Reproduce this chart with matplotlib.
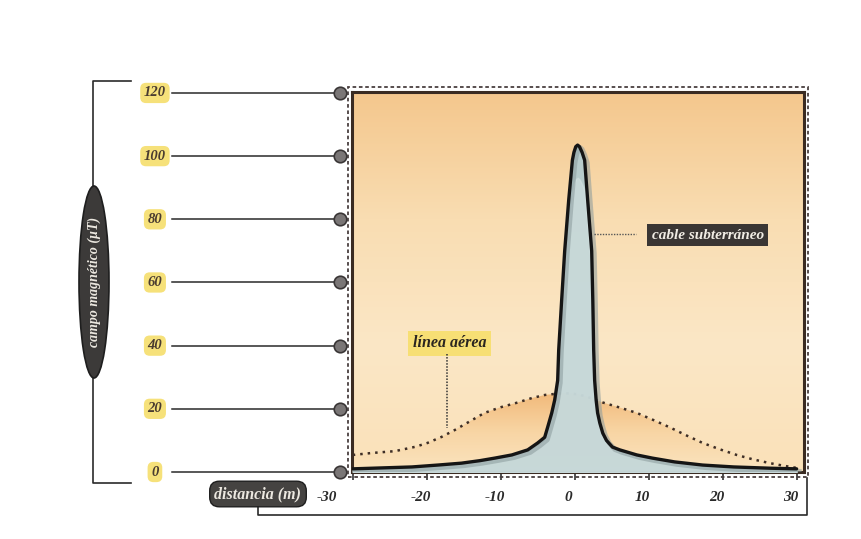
import numpy as np
import matplotlib
matplotlib.use("Agg")
import matplotlib.pyplot as plt
import matplotlib.transforms as mtransforms
from matplotlib.patches import Ellipse, Rectangle, Polygon
from matplotlib.colors import LinearSegmentedColormap

# data
y_ticks = [0, 20, 40, 60, 80, 100, 120]
x_ticks = [-30, -20, -10, 0, 10, 20, 30]

aerea_x = [-30, -27.5, -24.3, -21.5, -19.9, -18.0, -16.2, -14.2, -12.2, -10.0, -7.7, -5.8, -4.0, -1.5,
           0.5, 2.2, 3.8, 6.1, 8.4, 10.6, 12.8, 15.0, 17.3, 19.6, 21.9, 24.1, 26.4, 28.2, 30]
aerea_y = [5.4, 6.0, 6.6, 8.0, 9.2, 11.1, 13.3, 16.0, 18.7, 20.5, 22.0, 23.4, 24.4, 25.0,
           24.6, 23.4, 22.0, 20.4, 18.7, 16.5, 14.2, 11.7, 9.2, 7.2, 5.4, 4.0, 2.8, 2.0, 1.3]

cable_x = [-30, -26, -22, -18.5, -15.3, -12.8, -10.8, -8.5, -6.35, -5.0, -4.05, -3.65, -3.1, -2.7, -2.3,
           -2.16, -1.76, -1.35, -0.81, -0.31, -0.1, 0.15, 0.4, 0.65, 1.0, 1.35, 1.76, 2.3, 2.45,
           2.57, 2.7, 2.9, 3.1, 3.4, 3.8, 4.3, 5.1, 6.1, 8.4, 10.5, 13.5, 17.3, 21.5, 26.4, 30]
cable_y = [1.0, 1.3, 1.6, 2.2, 2.8, 3.6, 4.4, 5.4, 7.0, 9.2, 11.0, 14.2, 18.7, 22.8, 29.0,
           38.6, 54.4, 70.0, 86.0, 98.7, 101.2, 103.0, 103.5, 103.0, 101.2, 98.7, 86.0, 70.0, 54.4,
           38.6, 29.0, 22.8, 18.7, 15.5, 12.3, 10.0, 7.9, 7.0, 5.4, 4.4, 3.2, 2.2, 1.6, 1.2, 1.0]

fig = plt.figure(figsize=(8.61, 5.39), dpi=100)
W, H = 861, 539
ax = fig.add_axes([352 / W, (H - 472) / H, 452 / W, 380 / H])
ax.set_xlim(-30.1, 31.0)
ax.set_ylim(0, 120.3)

# background gradient
bg = LinearSegmentedColormap.from_list("bg", ["#fae1b9", "#fbe7c6", "#f9ddb2", "#f4c78d"])
grad = np.linspace(0, 1, 256).reshape(-1, 1)
ax.imshow(grad, cmap=bg, aspect="auto", origin="lower",
          extent=[-30.1, 31.0, 0, 120.3], zorder=0)

# overhead line: gradient fill under dotted curve
ax_x = np.array(aerea_x)
ax_y = np.array(aerea_y)
fill_cm = LinearSegmentedColormap.from_list("fo", ["#fbe4bf", "#f8d5a4", "#f1b878"])
im = ax.imshow(grad, cmap=fill_cm, aspect="auto", origin="lower",
               extent=[-30.1, 31.0, 0, 25.5], zorder=1)
poly = Polygon(np.column_stack([np.r_[ax_x, ax_x[::-1]], np.r_[ax_y, np.zeros(len(ax_x))]]),
               closed=True, transform=ax.transData, facecolor="none", edgecolor="none")
ax.add_patch(poly)
im.set_clip_path(poly)
ax.plot(aerea_x, aerea_y, color="#3e2e26", lw=1.8, ls=(0, (1.0, 2.0)), zorder=3)

# underground cable
cy = np.array(cable_y)
ax.fill_between(cable_x, 0, cable_y, color="#b4cbce", alpha=0.95, zorder=4)
ax.fill_between(cable_x, 0, cy * 0.9, color="#dbe7e6", alpha=0.45, zorder=4)
ax.plot(np.array(cable_x) + 0.35, cy - 0.8, color="#8a9a9c", lw=3.5, alpha=0.55, zorder=4)
ax.plot(cable_x, cable_y, color="#151515", lw=2.4, zorder=5, solid_capstyle="round",
        solid_joinstyle="round")

# frame
for s in ax.spines.values():
    s.set_color("#3a2b22")
    s.set_linewidth(2.2)
ax.add_patch(Rectangle((-0.008, -0.012), 1.016, 1.024, transform=ax.transAxes, fill=False,
                       ec="#4a4040", lw=1.3, ls=(0, (2, 1.5)), clip_on=False, zorder=6))

# x ticks
ax.set_xticks(x_ticks)
ax.set_xticklabels([str(v) for v in x_ticks], fontstyle="italic", fontweight="bold",
                   family="Liberation Serif", fontsize=11, color="#2a2a2a")
ax.tick_params(axis="x", direction="out", length=6, width=1.2, color="#333333", pad=8)
for lab, v in zip(ax.get_xticklabels(), x_ticks):
    dx = -26 if v == -30 else -6
    lab.set_transform(lab.get_transform() + mtransforms.ScaledTranslation(dx / 100, 0, fig.dpi_scale_trans))
ax.set_yticks([])

# y axis: labels, leader lines and dots
bt = mtransforms.blended_transform_factory(ax.transAxes, ax.transData)
for v in y_ticks:
    ax.plot([-0.398, -0.03], [v, v], transform=bt, color="#2a2a2a", lw=1.1, clip_on=False, zorder=7)
    ax.plot([-0.0265], [v], transform=bt, marker="o", ms=9, mfc="#7a7676", mec="#3a3636",
            mew=1.2, clip_on=False, zorder=8)
    ax.text(-0.436, v, str(v), transform=bt, ha="center", va="center", fontsize=10.5,
            fontstyle="italic", fontweight="bold", family="Liberation Serif", color="#4a3c30",
            zorder=8, bbox=dict(boxstyle="round,pad=0.25,rounding_size=0.4", fc="#f6e17a", ec="none"))

# annotations
ax.text(-16.9, 40.7, "línea aérea", ha="center", va="center", fontsize=11.5, fontweight="bold",
        fontstyle="italic", family="Liberation Serif", color="#2a2520", zorder=9,
        bbox=dict(boxstyle="square,pad=0.3", fc="#f7df74", ec="none"))
ax.plot([-17.3, -17.3], [37.5, 14.0], color="#333333", lw=1.1, ls=(0, (1, 1)), zorder=9)
ax.text(18.0, 74.9, "cable subterráneo", ha="center", va="center", fontsize=11,
        fontstyle="italic", fontweight="bold", family="Liberation Serif", color="#f0ece4", zorder=9,
        bbox=dict(boxstyle="square,pad=0.3", fc="#3a3634", ec="none"))
ax.plot([2.6, 8.3], [75.5, 75.5], color="#555555", lw=1.0, ls=(0, (1, 1)), zorder=9)

# brackets and axis titles in figure pixels
ov = fig.add_axes([0, 0, 1, 1], zorder=-1)
ov.set_xlim(0, W)
ov.set_ylim(H, 0)
ov.axis("off")
ov.plot([131, 93, 93, 131], [81, 81, 483, 483], color="#2a2a2a", lw=1.2)
ov.add_patch(Ellipse((94, 282), 30, 192, fc="#3c3a39", ec="#1e1e1e", lw=1.2, zorder=3))
ov.text(94, 282, "campo magnético (µT)", rotation=90, ha="center", va="center", fontsize=10,
        fontstyle="italic", fontweight="bold", family="Liberation Serif", color="#ece8e0", zorder=4)
ov.plot([258, 258, 807, 807], [505, 515, 515, 478], color="#2a2a2a", lw=1.2)
ov.text(258, 494, "distancia (m)", ha="center", va="center", fontsize=11.5, fontstyle="italic",
        fontweight="bold", family="Liberation Serif", color="#ece8e0", zorder=4,
        bbox=dict(boxstyle="round,pad=0.3,rounding_size=0.6", fc="#454341", ec="#1e1e1e", lw=1))

fig.savefig("out.png", dpi=100, facecolor="white")
